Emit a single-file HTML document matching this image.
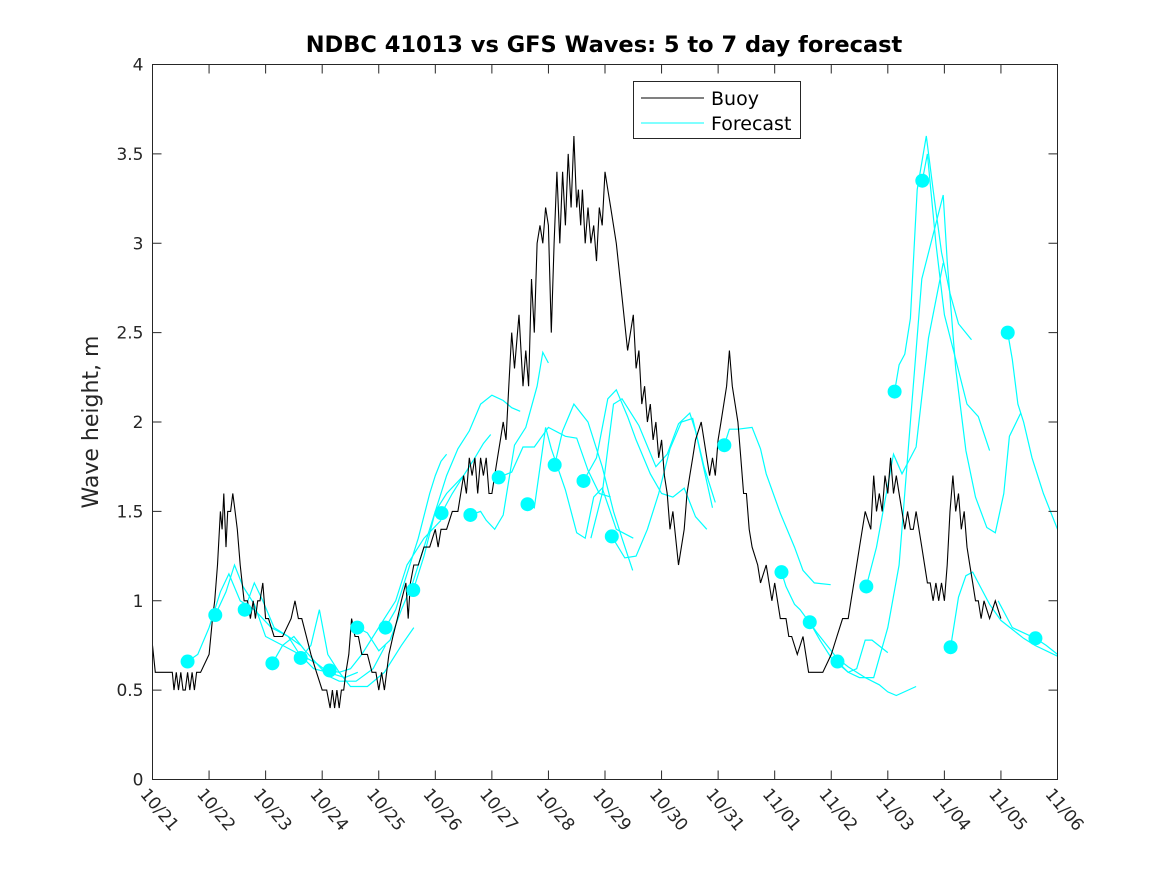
<!DOCTYPE html>
<html><head><meta charset="utf-8"><style>
html,body{margin:0;padding:0;background:#fff;}
svg{display:block;font-family:"DejaVu Sans","Liberation Sans",sans-serif;}
</style></head><body>
<svg id="chart" width="1167" height="875" viewBox="0 0 1167 875" xmlns="http://www.w3.org/2000/svg">
<rect x="0" y="0" width="1167" height="875" fill="#fff"/>
<text x="604" y="52" text-anchor="middle" font-size="22.5" font-weight="bold" fill="#000">NDBC 41013 vs GFS Waves: 5 to 7 day forecast</text>
<text transform="translate(98,422) rotate(-90)" text-anchor="middle" font-size="22" fill="#262626">Wave height, m</text>
<g id="grid"></g>
<g id="series"></g>
<rect x="152.5" y="64.5" width="905" height="715" fill="none" stroke="#262626" stroke-width="1"/>
<g id="axes"></g>
<g>
<rect x="633.5" y="81.5" width="167" height="57" fill="#fff" stroke="#262626"/>
<line x1="641" y1="98" x2="704" y2="98" stroke="#000" stroke-width="1"/>
<text x="711" y="105" font-size="19" fill="#000">Buoy</text>
<line x1="641" y1="123" x2="704" y2="123" stroke="#00ffff" stroke-width="1"/>
<text x="711" y="130" font-size="19" fill="#000">Forecast</text>
</g>
</svg>
<script>
const xTickLabels = ["10/21","10/22","10/23","10/24","10/25","10/26","10/27","10/28","10/29","10/30","10/31","11/01","11/02","11/03","11/04","11/05","11/06"];
const yTickValues = [0,0.5,1,1.5,2,2.5,3,3.5,4];
const yTickLabels = ["0","0.5","1","1.5","2","2.5","3","3.5","4"];
// buoy: days since 10/21 and wave height (m)
const buoyDays = [0,0.05,0.1,0.35,0.38,0.42,0.46,0.5,0.54,0.58,0.62,0.66,0.7,0.74,0.78,0.85,1.0,1.03,1.06,1.1,1.15,1.2,1.23,1.26,1.3,1.33,1.38,1.42,1.46,1.5,1.55,1.62,1.68,1.73,1.78,1.82,1.86,1.9,1.95,2.0,2.05,2.15,2.3,2.45,2.52,2.58,2.64,2.72,2.8,2.9,3.0,3.08,3.14,3.18,3.22,3.26,3.3,3.34,3.38,3.42,3.47,3.52,3.58,3.64,3.7,3.8,3.88,3.95,4.0,4.05,4.1,4.18,4.25,4.33,4.4,4.48,4.52,4.56,4.62,4.7,4.8,4.9,5.0,5.05,5.1,5.2,5.3,5.4,5.5,5.55,5.6,5.65,5.7,5.75,5.8,5.85,5.9,5.95,6.0,6.05,6.1,6.15,6.2,6.25,6.3,6.35,6.4,6.48,6.55,6.6,6.65,6.7,6.75,6.8,6.85,6.9,6.95,7.0,7.05,7.1,7.15,7.2,7.25,7.3,7.35,7.4,7.45,7.5,7.53,7.57,7.6,7.65,7.7,7.75,7.8,7.85,7.9,7.95,8.0,8.05,8.1,8.15,8.2,8.3,8.4,8.5,8.55,8.6,8.65,8.7,8.75,8.8,8.85,8.9,8.95,9.0,9.05,9.1,9.15,9.2,9.3,9.4,9.45,9.5,9.55,9.6,9.7,9.8,9.85,9.9,9.95,10.0,10.05,10.1,10.15,10.2,10.25,10.3,10.35,10.4,10.45,10.5,10.55,10.6,10.7,10.75,10.85,10.95,11.0,11.05,11.1,11.2,11.25,11.3,11.4,11.5,11.55,11.6,11.7,11.75,11.85,12.0,12.1,12.2,12.3,12.35,12.4,12.45,12.5,12.6,12.7,12.75,12.8,12.85,12.9,12.95,13.0,13.05,13.1,13.15,13.2,13.25,13.3,13.35,13.4,13.45,13.5,13.6,13.65,13.7,13.75,13.8,13.85,13.9,13.95,14.0,14.05,14.1,14.15,14.2,14.25,14.3,14.35,14.4,14.45,14.5,14.55,14.6,14.65,14.7,14.8,14.9,15.0,15.05,15.1,15.15,15.2];
const buoyVals = [0.75,0.6,0.6,0.6,0.5,0.6,0.5,0.6,0.5,0.5,0.6,0.5,0.6,0.5,0.6,0.6,0.7,0.8,0.9,1.0,1.2,1.5,1.4,1.6,1.3,1.5,1.5,1.6,1.5,1.4,1.2,1.0,1.0,0.9,1.0,0.9,1.0,1.0,1.1,0.9,0.9,0.8,0.8,0.9,1.0,0.9,0.9,0.8,0.7,0.6,0.5,0.5,0.4,0.5,0.4,0.5,0.4,0.5,0.5,0.6,0.7,0.9,0.8,0.8,0.7,0.7,0.6,0.6,0.5,0.6,0.5,0.7,0.8,0.9,1.0,1.1,0.9,1.1,1.2,1.2,1.3,1.3,1.4,1.3,1.4,1.4,1.5,1.5,1.7,1.6,1.8,1.7,1.8,1.6,1.8,1.7,1.8,1.6,1.6,1.7,1.8,1.9,2.0,1.9,2.2,2.5,2.3,2.6,2.2,2.4,2.2,2.8,2.5,3.0,3.1,3.0,3.2,3.1,2.5,3.0,3.4,3.0,3.4,3.1,3.5,3.2,3.6,3.2,3.3,3.1,3.3,3.0,3.2,3.0,3.1,2.9,3.2,3.1,3.4,3.3,3.2,3.1,3.0,2.7,2.4,2.6,2.3,2.4,2.1,2.2,2.0,2.1,1.9,2.0,1.8,1.9,1.7,1.6,1.4,1.5,1.2,1.4,1.6,1.7,1.8,1.9,2.0,1.8,1.7,1.8,1.7,1.9,2.0,2.1,2.2,2.4,2.2,2.1,2.0,1.8,1.6,1.6,1.4,1.3,1.2,1.1,1.2,1.0,1.1,1.0,0.9,0.9,0.8,0.8,0.7,0.8,0.7,0.6,0.6,0.6,0.6,0.7,0.8,0.9,0.9,1.0,1.1,1.2,1.3,1.5,1.4,1.7,1.5,1.6,1.5,1.7,1.6,1.8,1.6,1.7,1.6,1.5,1.4,1.5,1.4,1.4,1.5,1.3,1.2,1.1,1.1,1.0,1.1,1.0,1.1,1.0,1.2,1.5,1.7,1.5,1.6,1.4,1.5,1.3,1.2,1.1,1.0,1.0,0.9,1.0,0.9,1.0,0.9];
// forecast run start points (markers)
const markerDays = [0.62,1.11,1.63,2.12,2.62,3.13,3.62,4.12,4.61,5.11,5.62,6.12,6.63,7.11,7.62,8.12,10.11,11.12,11.62,12.11,12.62,13.12,13.61,14.11,15.12,15.61];
const markerVals = [0.66,0.92,0.95,0.65,0.68,0.61,0.85,0.85,1.06,1.49,1.48,1.69,1.54,1.76,1.67,1.36,1.87,1.16,0.88,0.66,1.08,2.17,3.35,0.74,2.50,0.79];
// forecast runs: days and values
const fcDays = [
 [0.62,0.8,1.0,1.2,1.35,1.55,1.8,2.1,2.4,2.62],
 [1.11,1.3,1.45,1.6,1.8,2.0,2.3,2.6,2.9,3.11],
 [1.63,1.8,1.95,2.15,2.4,2.6,2.85,3.1,3.4,3.63],
 [2.12,2.3,2.5,2.7,2.9,3.1,3.3,3.6,3.9,4.12],
 [2.62,2.8,2.95,3.1,3.3,3.5,3.8,4.1,4.4,4.62],
 [3.13,3.3,3.5,3.7,3.9,4.1,4.3,4.5,4.8,5.1],
 [3.62,3.8,4.0,4.2,4.4,4.6,4.8,5.0,5.2,5.5],
 [4.12,4.3,4.5,4.7,4.9,5.0,5.1,5.2],
 [4.61,4.8,5.0,5.2,5.4,5.6,5.8,6.0,6.2,6.35,6.5],
 [5.11,5.3,5.5,5.7,5.85,5.98],
 [5.62,5.8,5.9,6.05,6.2,6.4,6.6,6.8,6.9,7.0],
 [6.12,6.35,6.55,6.75,7.0,7.3,7.5,7.7,7.9,8.1],
 [6.63,6.75,6.95,7.05,7.3,7.5,7.65,7.8,7.95,8.2,8.5],
 [7.11,7.25,7.45,7.7,7.95,8.15,8.3,8.49],
 [7.62,7.85,8.05,8.2,8.4,8.55,8.8,9.0,9.2,9.4,9.6,9.8],
 [8.12,8.35,8.55,8.75,8.95,9.15,9.35,9.55,9.75,9.95],
 [7.75,7.95,8.05,8.15,8.3,8.6,8.9,9.1,9.3,9.5,9.6,9.9],
 [10.11,10.2,10.35,10.6,10.75,10.85,11.1,11.35,11.5,11.7,11.99],
 [11.12,11.2,11.35,11.45,11.75,12.1,12.3,12.6,12.85,13.0,13.15,13.5],
 [11.62,11.8,12.0,12.3,12.5,12.75,13.0,13.2,13.4,13.6,13.98,14.05,14.2,14.38,14.55,14.75,14.9,15.05,15.15,15.35],
 [12.11,12.3,12.45,12.6,12.72,13.0],
 [12.62,12.8,13.1,13.25,13.5,13.72,13.98],
 [13.12,13.2,13.3,13.4,13.52,13.68,13.8,13.95,14.1,14.25,14.48],
 [13.61,13.7,13.85,14.0,14.2,14.4,14.6,14.8],
 [14.11,14.25,14.38,14.5,14.6,14.8,15.0,15.2,15.4,15.6,16.0],
 [15.12,15.2,15.3,15.4,15.55,15.75,16.0],
 [14.95,15.2,15.61,15.8,16.0]
];
const fcVals = [
 [0.66,0.7,0.85,1.05,1.15,1.0,0.95,0.85,0.8,0.75],
 [0.92,1.05,1.2,1.08,0.98,0.8,0.75,0.7,0.65,0.6],
 [0.95,1.1,1.0,0.85,0.8,0.7,0.62,0.6,0.57,0.6],
 [0.65,0.75,0.8,0.72,0.65,0.58,0.55,0.55,0.62,0.75],
 [0.68,0.75,0.95,0.7,0.6,0.52,0.52,0.6,0.75,0.85],
 [0.61,0.6,0.62,0.7,0.8,0.9,1.0,1.2,1.35,1.45],
 [0.85,0.82,0.72,0.78,0.95,1.1,1.3,1.5,1.6,1.7],
 [0.85,0.95,1.15,1.35,1.6,1.7,1.78,1.82],
 [1.06,1.25,1.5,1.7,1.85,1.95,2.1,2.15,2.12,2.08,2.06],
 [1.49,1.6,1.7,1.8,1.88,1.93],
 [1.48,1.5,1.45,1.4,1.48,1.87,1.97,2.2,2.39,2.33],
 [1.69,1.72,1.86,1.86,1.97,1.92,1.91,1.73,1.6,1.58],
 [1.54,1.52,1.97,1.85,1.62,1.38,1.35,1.58,1.63,1.4,1.35],
 [1.76,1.95,2.1,2.0,1.75,1.5,1.35,1.17],
 [1.67,1.8,2.13,2.18,2.03,1.9,1.71,1.6,1.58,1.63,1.47,1.4],
 [1.36,1.24,1.25,1.4,1.6,1.85,2.0,2.02,1.75,1.55],
 [1.35,1.6,1.85,2.1,2.13,1.98,1.75,1.82,1.99,2.05,1.95,1.52],
 [1.87,1.96,1.96,1.97,1.85,1.71,1.49,1.3,1.17,1.1,1.09],
 [1.16,1.08,0.98,0.95,0.82,0.68,0.63,0.57,0.53,0.49,0.47,0.52],
 [0.88,0.78,0.68,0.6,0.57,0.57,0.85,1.2,2.0,2.8,3.27,2.9,2.3,1.84,1.58,1.41,1.38,1.6,1.92,2.05],
 [0.66,0.6,0.62,0.78,0.78,0.71],
 [1.08,1.3,1.82,1.71,1.86,2.47,2.89],
 [2.17,2.32,2.38,2.58,3.3,3.6,3.3,2.95,2.72,2.55,2.46],
 [3.35,3.5,3.0,2.6,2.35,2.1,2.03,1.84],
 [0.74,1.02,1.14,1.16,1.1,0.98,0.89,0.84,0.79,0.75,0.69],
 [2.50,2.35,2.1,2.0,1.8,1.6,1.4],
 [1.0,0.85,0.79,0.75,0.7]
];

const X0=152.5, X1=1057.5, Y0=779.5, Y1=64.5, DAYS=16, YMAX=4;
function xs(d){return X0+(X1-X0)*d/DAYS;}
function ys(v){return Y0-(Y0-Y1)*v/YMAX;}
const NS="http://www.w3.org/2000/svg";
const axes=document.getElementById('axes');
const series=document.getElementById('series');
function mk(tag,attrs,parent){const e=document.createElementNS(NS,tag);for(const k in attrs)e.setAttribute(k,attrs[k]);parent.appendChild(e);return e;}

xTickLabels.forEach((lab,i)=>{
  const x=xs(i);
  const t1=mk('line',{x1:x,y1:Y0,x2:x,y2:Y0-9,stroke:'#262626'},axes);
  
  
  const t2=mk('line',{x1:x,y1:Y1,x2:x,y2:Y1+9,stroke:'#262626'},axes);
  
  
  const tx=mk('text',{x:0,y:0,'font-size':'17',fill:'#262626',transform:`translate(${x-13},${Y0+15}) rotate(50)`},axes);
  tx.textContent=lab;
  
  
});
yTickValues.forEach((v,i)=>{
  const y=ys(v);
  const t1=mk('line',{x1:X0,y1:y,x2:X0+9,y2:y,stroke:'#262626'},axes);
  
  
  const t2=mk('line',{x1:X1,y1:y,x2:X1-9,y2:y,stroke:'#262626'},axes);
  
  
  const tx=mk('text',{x:X0-9,y:y+6,'text-anchor':'end','font-size':'17',fill:'#262626'},axes);
  tx.textContent=yTickLabels[i];
  
  
});

fcDays.forEach((ds,i)=>{
  const pts=ds.map((d,j)=>xs(d).toFixed(1)+','+ys(fcVals[i][j]).toFixed(1)).join(' ');
  const pl=mk('polyline',{points:pts,fill:'none',stroke:'#00ffff','stroke-width':'1.2'},series);
  
  
});
const bpts=buoyDays.map((d,j)=>xs(d).toFixed(1)+','+ys(buoyVals[j]).toFixed(1)).join(' ');
const bl=mk('polyline',{points:bpts,fill:'none',stroke:'#000','stroke-width':'1.1'},series);


markerDays.forEach((d,i)=>{
  const c=mk('circle',{cx:xs(d),cy:ys(markerVals[i]),r:7,fill:'#00ffff'},series);
  
  
});
</script>
</body></html>
